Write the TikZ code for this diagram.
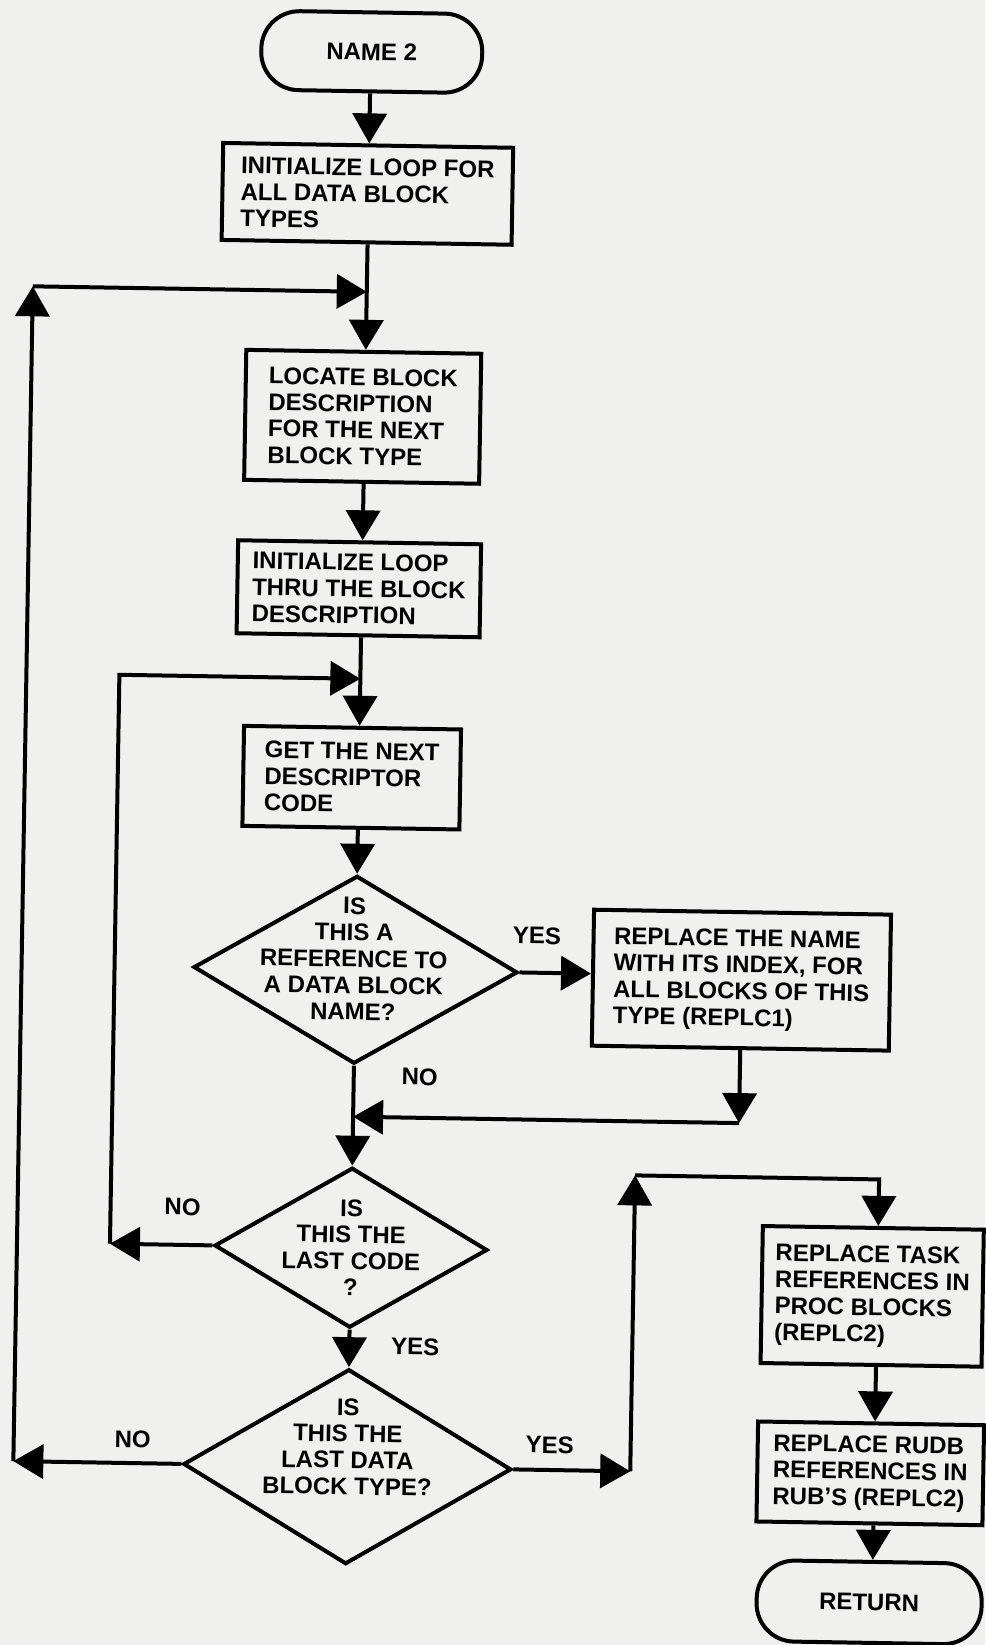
\documentclass[tikz,border=0pt]{standalone}
\usepackage{fontspec}
\setmainfont{Liberation Sans}
\usetikzlibrary{shapes.geometric,arrows.meta}
\definecolor{paper}{RGB}{240,240,238}
\begin{document}
\begin{tikzpicture}[x=1pt,y=-1pt,
  every node/.style={font=\bfseries\fontsize{24}{26.5}\selectfont},
  procbox/.style={draw, line width=4pt, align=left, inner xsep=8pt, inner ysep=6pt},
  termbox/.style={draw, line width=4pt, rounded corners=38pt, align=center},
  decision/.style={draw, diamond, line width=4pt, inner sep=0pt},
  dtext/.style={align=center},
  flow/.style={line width=4pt, -{Triangle[length=30pt,width=34pt]}},
]
\fill[paper] (0,0) rectangle (985,1645);
\useasboundingbox (0,0) rectangle (985,1645);
\begin{scope}[rotate around={-0.95:(492,822)}, transform shape]
  % lanes and junctions
  \coordinate (col) at (358,0);
  \coordinate (rcol) at (885,0);
  \coordinate (outer) at (24,0);
  \coordinate (inner) at (117,0);
  \coordinate (j1) at (358,294);
  \coordinate (j2) at (358,681);
  \coordinate (m) at (358,1119);
  \coordinate (up) at (641,1173);

  % main column
  \node[termbox, minimum width=221pt, minimum height=79pt] (start) at (359,54) {NAME 2};
  \node[procbox, minimum width=290pt, minimum height=97pt] (b1) at (357,196)
    {INITIALIZE LOOP FOR\\ALL DATA BLOCK\\TYPES};
  \node[procbox, minimum width=235pt, minimum height=130pt] (b2) at (356,419)
    {LOCATE BLOCK\\DESCRIPTION\\FOR THE NEXT\\BLOCK TYPE};
  \node[procbox, minimum width=243pt, minimum height=93pt] (b3) at (355,591)
    {INITIALIZE LOOP\\THRU THE BLOCK\\DESCRIPTION};
  \node[procbox, minimum width=217pt, minimum height=100pt] (b4) at (351,780)
    {GET THE NEXT\\DESCRIPTOR\\CODE};
  \node[decision, minimum width=324pt, minimum height=188pt] (d1) at (358,972) {};
  \node[dtext] (d1t) at (356,961) {IS\\THIS A\\REFERENCE TO\\A DATA BLOCK\\NAME?};
  \node[procbox, minimum width=297pt, minimum height=136pt] (r1) at (744,976)
    {REPLACE THE NAME\\WITH ITS INDEX, FOR\\ALL BLOCKS OF THIS\\TYPE (REPLC1)};
  \node[decision, minimum width=273pt, minimum height=160pt] (d2) at (358,1250) {};
  \node[dtext] (d2t) at (358,1250) {IS\\THIS THE\\LAST CODE\\?};
  \node[decision, minimum width=328pt, minimum height=195pt] (d3) at (358,1469) {};
  \node[dtext] (d3t) at (358,1449) {IS\\THIS THE\\LAST DATA\\BLOCK TYPE?};

  % right column
  \node[procbox, minimum width=221pt, minimum height=137pt] (r2) at (880,1290)
    {REPLACE TASK\\REFERENCES IN\\PROC BLOCKS\\(REPLC2)};
  \node[procbox, minimum width=226pt, minimum height=100pt] (r3) at (881,1467)
    {REPLACE RUDB\\REFERENCES IN\\RUB'S (REPLC2)};
  \node[termbox, minimum width=225pt, minimum height=81pt] (ret) at (882,1596) {RETURN};

  % branch labels
  \node (yes1) at (539,935) {YES};
  \node (no1) at (424,1078) {NO};
  \node (no2) at (189,1212) {NO};
  \node (yes2) at (424,1348) {YES};
  \node (no3) at (143,1445) {NO};
  \node (yes3) at (560,1444) {YES};

  % straight-down flow
  \draw[flow] (start.south -| col) -- (b1.north -| col);
  \draw[flow] (b1.south -| col) -- (b2.north -| col);
  \draw[flow] (b2.south -| col) -- (b3.north -| col);
  \draw[flow] (b3.south -| col) -- (b4.north -| col);
  \draw[flow] (b4.south -| col) -- (d1.north);
  \draw[flow] (d1.south) -- (d2.north);
  \draw[flow] (d2.south) -- (d3.north);

  % YES branch of the first test, merging back
  \draw[flow] (d1.east) -- (d1.east -| r1.west);
  \draw[flow] (r1.south) -- (r1.south |- m);
  \draw[flow] (r1.south |- m) -- (m);

  % inner loop: next descriptor code
  \draw[flow] (d2.west) -- (d2.west -| inner);
  \draw[flow] (d2.west -| inner) -- (j2 -| inner) -- (j2);

  % outer loop: next data block type
  \draw[flow] (d3.west) -- (d3.west -| outer);
  \draw[flow] (d3.west -| outer) -- (j1 -| outer);
  \draw[flow] (j1 -| outer) -- (j1);

  % exit to the final replacements
  \draw[flow] (d3.east) -- (d3.east -| up);
  \draw[flow] (d3.east -| up) -- (up);
  \draw[flow] (up) -- (up -| rcol) -- (r2.north -| rcol);
  \draw[flow] (r2.south -| rcol) -- (r3.north -| rcol);
  \draw[flow] (r3.south -| rcol) -- (ret.north -| rcol);
\end{scope}
\end{tikzpicture}
\end{document}
